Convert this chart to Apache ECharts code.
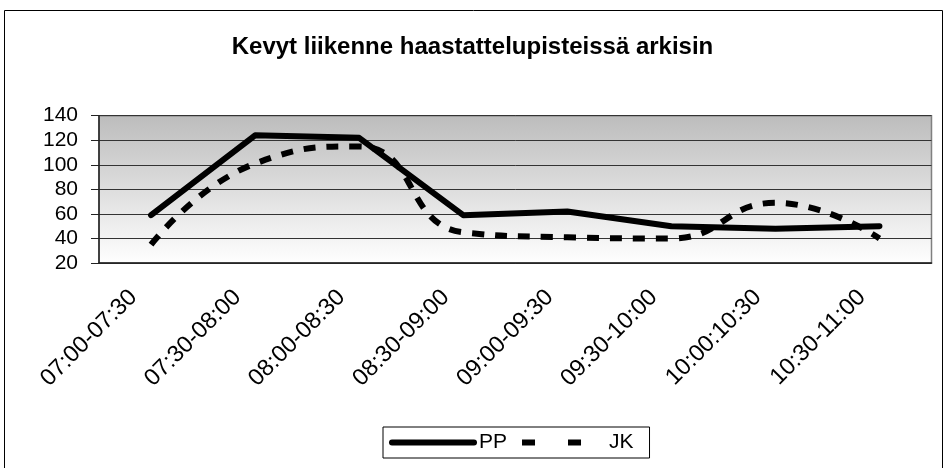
<!DOCTYPE html>
<html>
<head>
<meta charset="utf-8">
<script src="https://cdn.jsdelivr.net/npm/echarts@6/dist/echarts.min.js"></script>
<style>
  html, body { margin: 0; padding: 0; background: #fff; }
  #chart { width: 945px; height: 468px; }
</style>
</head>
<body>
<div id="chart"></div>
<script>
var categories = ["07:00-07:30", "07:30-08:00", "08:00-08:30", "08:30-09:00",
  "09:00-09:30", "09:30-10:00", "10:00:10:30", "10:30-11:00"];
var ppValues = [59, 124, 122, 59, 62, 50, 48, 50];
var jkValues = [35, 101, 115, 45, 41, 40, 69, 40];
var yTicks = { min: 20, max: 140, step: 20 };

var font = "Liberation Sans, Arial, sans-serif";
var myChart = echarts.init(document.getElementById("chart"));

var options = {
  animation: false,
  title: {
    text: "Kevyt liikenne haastattelupisteissä arkisin",
    left: "center",
    top: 30,
    textStyle: { fontFamily: font, fontSize: 24, fontWeight: "bold", color: "#000" },
  },
  // outer frame of the chart
  graphic: [
    {
      type: "rect",
      shape: { x: 4.5, y: 10.5, width: 938, height: 470 },
      style: { fill: null, stroke: "#000", lineWidth: 1 },
      silent: true,
    },
  ],
  legend: {
    left: 383,
    top: 427,
    padding: [5, 16, 5, 6],
    itemGap: 12,
    itemWidth: 82,
    itemHeight: 14,
    borderColor: "#000",
    borderWidth: 1,
    backgroundColor: "#fff",
    itemStyle: { opacity: 0 },
    textStyle: { fontFamily: font, fontSize: 21, color: "#000" },
    data: [
      { name: "PP", lineStyle: { width: 6, cap: "round" } },
      { name: "JK", lineStyle: { width: 6, type: [13, 33] } },
    ],
  },
  grid: {
    left: 99,
    right: 13.5,
    top: 115.7,
    bottom: 205,
    show: true,
    borderColor: "#808080",
    borderWidth: 1.5,
    backgroundColor: new echarts.graphic.LinearGradient(0, 0, 0, 1, [
      { offset: 0, color: "#bcbcbc" },
      { offset: 1, color: "#ffffff" },
    ]),
  },
  xAxis: {
    type: "category",
    data: categories,
    boundaryGap: true,
    axisLine: { lineStyle: { color: "#222", width: 1.5 } },
    axisTick: { length: 9, lineStyle: { color: "#222" } },
    axisLabel: {
      rotate: 45,
      margin: 13,
      padding: [0, 25, 0, 0],
      fontFamily: font,
      fontSize: 23.5,
      color: "#000",
      interval: 0,
    },
  },
  yAxis: {
    type: "value",
    min: yTicks.min,
    max: yTicks.max,
    interval: yTicks.step,
    axisLine: { show: true, lineStyle: { color: "#222", width: 1.5 } },
    axisTick: { show: true, length: 8, lineStyle: { color: "#222" } },
    axisLabel: { margin: 21, fontFamily: font, fontSize: 21, color: "#000" },
    splitLine: { lineStyle: { color: "#333", width: 1 } },
  },
  series: [
    {
      name: "PP",
      type: "line",
      data: ppValues,
      symbol: "none",
      lineStyle: { color: "#000", width: 6, cap: "round", join: "round" },
      itemStyle: { color: "#000" },
    },
    {
      name: "JK",
      type: "line",
      data: jkValues,
      symbol: "none",
      smooth: 0.5,
      lineStyle: { color: "#000", width: 6, type: [12, 11] },
      itemStyle: { color: "#000" },
    },
  ],
};
myChart.setOption(options);
</script>
</body>
</html>
